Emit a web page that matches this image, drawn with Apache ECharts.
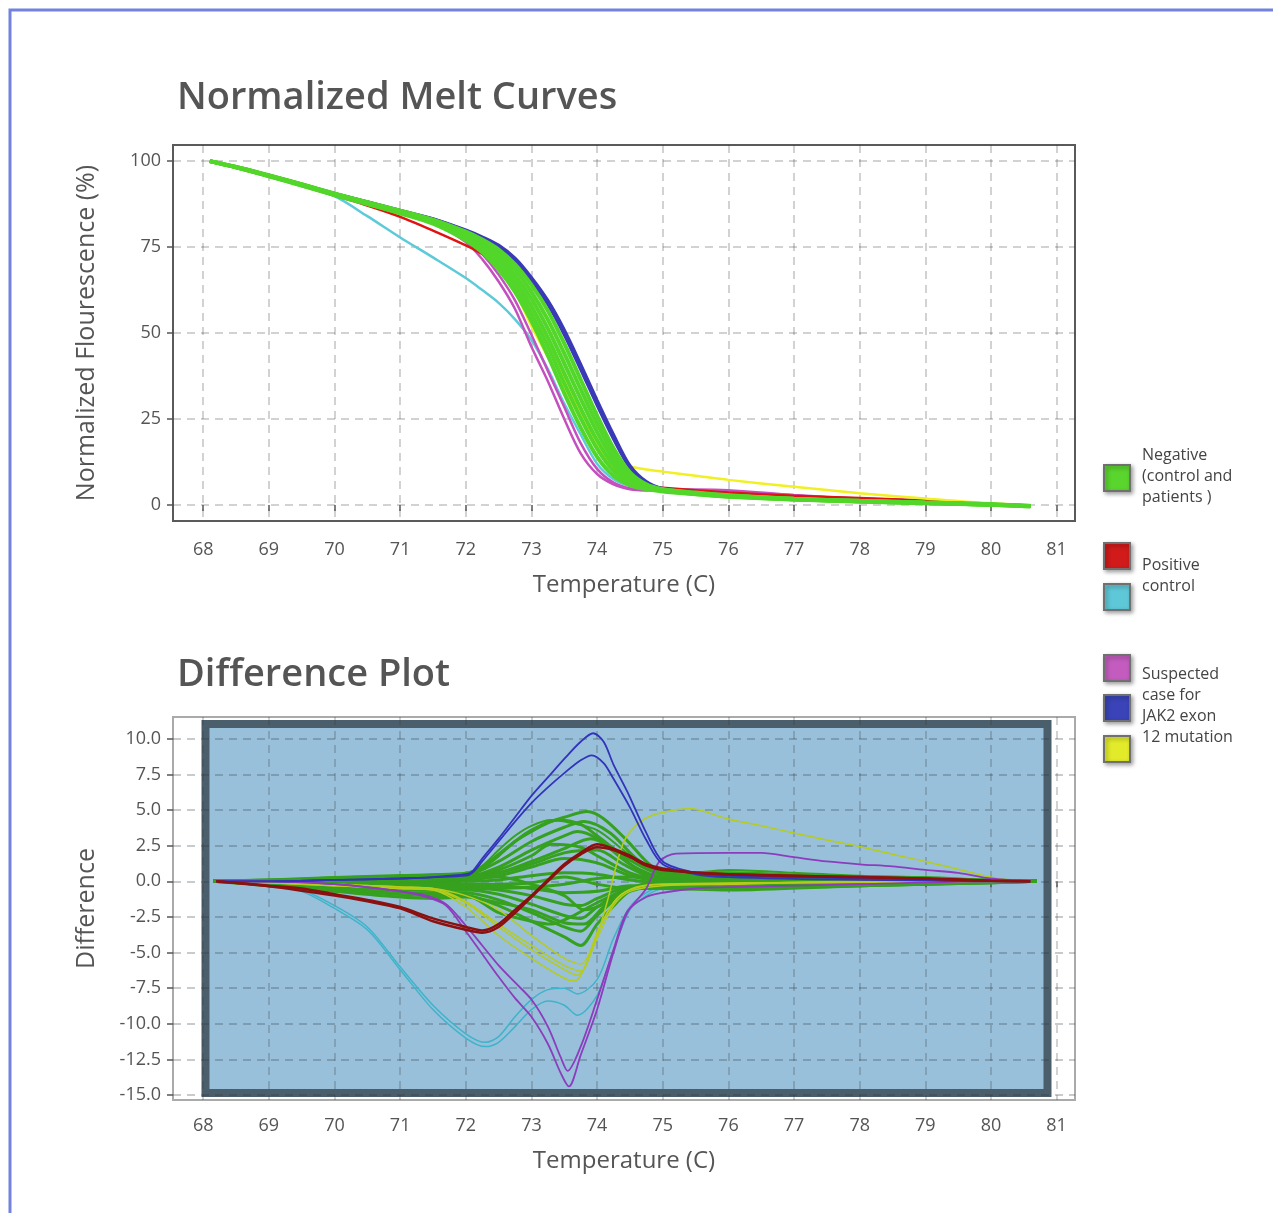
<!DOCTYPE html>
<html lang="en">
<head>
  <meta charset="UTF-8">
  <title>Normalized Melt Curves</title>
  <style>
  html, body {
    margin: 0;
    padding: 0;
    width: 100%;
    height: 100%;
    background: #fff;
  }
  #main {
    width: 1273px;
    height: 1213px;
  }
  </style>
</head>
<body>
<div id="main"></div>
<script src="https://cdn.jsdelivr.net/npm/echarts@6/dist/echarts.min.js"></script>
<script>
var FONT = 'Open Sans';

// tick labels
var tempTicks = [68, 69, 70, 71, 72, 73, 74, 75, 76, 77, 78, 79, 80, 81];
var meltTicks = [0, 25, 50, 75, 100];
var diffTicks = [-15, -12.5, -10, -7.5, -5, -2.5, 0, 2.5, 5, 7.5, 10];

// ---- normalized melt curves (one value per temperature) ----
var meltTemps = [68.1, 68.5, 69, 69.5, 70, 70.5, 71, 71.5, 72, 72.25, 72.5, 72.75, 73, 73.25,
                 73.5, 73.75, 74, 74.25, 74.5, 74.75, 75, 75.5, 76, 77, 78, 79, 80, 80.6];

var meltNeg1 = [100, 98.2, 95.6, 92.9, 90.1, 87.5, 84.8, 81.8, 77.0, 73.5, 68.5, 62.0, 53.5, 43.5, 32.5, 22.5, 14.0, 8.5, 5.8, 4.6, 3.9, 3.1, 2.4, 1.6, 1.0, 0.5, 0.1, -0.3];
var meltNeg2 = [100, 98.2, 95.7, 93.0, 90.2, 87.6, 85.0, 82.1, 77.5, 74.2, 69.7, 63.6, 55.6, 46.1, 35.4, 25.3, 16.4, 10.0, 6.6, 5.0, 4.1, 3.2, 2.5, 1.6, 1.0, 0.6, 0.1, -0.3];
var meltNeg3 = [100, 98.2, 95.7, 93.1, 90.3, 87.8, 85.2, 82.4, 78.1, 75.0, 71.0, 65.3, 57.8, 48.7, 38.3, 28.1, 18.8, 11.6, 7.3, 5.3, 4.3, 3.3, 2.6, 1.7, 1.1, 0.6, 0.1, -0.3];
var meltNeg4 = [100, 98.3, 95.8, 93.2, 90.4, 87.9, 85.3, 82.6, 78.6, 75.7, 72.1, 66.9, 60.0, 51.3, 41.2, 30.9, 21.2, 13.2, 8.0, 5.6, 4.4, 3.4, 2.7, 1.7, 1.1, 0.6, 0.1, -0.4];
var meltNeg5 = [100, 98.3, 95.8, 93.2, 90.5, 88.0, 85.5, 82.8, 79.0, 76.5, 73.2, 68.5, 62.0, 53.9, 44.1, 33.7, 23.6, 14.8, 8.8, 5.8, 4.5, 3.5, 2.7, 1.8, 1.2, 0.7, 0.2, -0.4];
var meltNeg6 = [100, 98.3, 95.9, 93.3, 90.6, 88.1, 85.6, 83.0, 79.5, 77.2, 74.3, 70.0, 64.0, 56.5, 47.0, 36.5, 26.0, 16.5, 9.5, 6.0, 4.6, 3.6, 2.8, 1.8, 1.2, 0.7, 0.2, -0.4];
var meltRed = [100, 98.2, 95.6, 92.9, 90.0, 87.1, 83.8, 79.8, 75.5, 73.0, 69.5, 64.0, 56.5, 48.0, 38.0, 27.5, 17.5, 10.5, 6.8, 5.4, 5.0, 4.3, 3.6, 2.7, 2.0, 1.3, 0.3, -0.2];
var meltCyan = [100, 98.2, 95.6, 92.9, 89.8, 84.0, 77.8, 72.0, 66.0, 62.5, 58.8, 54.0, 48.0, 39.5, 29.5, 20.5, 12.0, 7.5, 5.5, 4.5, 4.0, 3.3, 2.8, 2.2, 1.6, 1.0, 0.2, -0.2];
var meltMag1 = [100, 98.2, 95.6, 92.9, 90.1, 87.5, 84.8, 82.0, 76.5, 71.5, 65.0, 57.0, 46.0, 36.0, 25.0, 15.0, 9.0, 6.0, 4.6, 4.3, 4.5, 4.5, 4.3, 2.9, 1.9, 1.3, 0.3, -0.2];
var meltMag2 = [100, 98.2, 95.7, 93.0, 90.2, 87.6, 85.0, 82.2, 77.5, 73.0, 67.0, 59.5, 49.5, 39.0, 28.5, 18.0, 10.5, 6.5, 4.8, 4.3, 4.4, 4.3, 4.0, 2.7, 1.8, 1.1, 0.3, -0.2];
var meltBlue1 = [100, 98.3, 95.9, 93.3, 90.6, 88.2, 85.7, 83.3, 80.0, 78.0, 75.6, 71.8, 66.2, 59.5, 51.0, 41.0, 30.5, 20.5, 11.5, 6.8, 4.8, 3.6, 2.8, 1.8, 1.2, 0.7, 0.2, -0.4];
var meltBlue2 = [100, 98.3, 95.9, 93.3, 90.6, 88.1, 85.6, 83.2, 79.8, 77.6, 75.0, 71.0, 65.2, 58.3, 49.5, 39.4, 29.0, 19.2, 10.8, 6.5, 4.7, 3.5, 2.7, 1.8, 1.2, 0.7, 0.2, -0.4];
var meltYellow1 = [100, 98.2, 95.7, 93.0, 90.2, 87.6, 85.0, 82.2, 78.0, 74.5, 69.5, 62.0, 52.0, 43.0, 34.0, 25.0, 17.0, 12.5, 11.2, 10.3, 9.7, 8.5, 7.3, 5.3, 3.4, 1.9, 0.5, 0];
var meltYellow2 = [100, 98.2, 95.7, 93.0, 90.2, 87.7, 85.1, 82.3, 77.8, 74.6, 70.3, 64.5, 56.6, 47.4, 37.0, 26.8, 17.6, 10.8, 7.0, 5.2, 4.2, 3.3, 2.6, 1.7, 1.1, 0.6, 0.1, -0.3];

// ---- difference plot, [temperature, difference] ----
var diffNeg1 = [[68.15, 0], [68.5, 0.05], [69, 0.1], [69.5, 0.15], [70, 0.25], [70.5, 0.3], [71, 0.35], [71.5, 0.45], [72, 0.55], [72.25, 1.0], [72.5, 1.9], [72.75, 2.8], [73, 3.5], [73.25, 4.1], [73.5, 4.5], [73.85, 4.9], [74.1, 4.4], [74.45, 2.9], [74.85, 1.0], [75.2, 0.6], [76, 0.6], [77, 0.45], [78, 0.3], [79, 0.2], [80, 0.1], [80.7, 0]];
var diffNeg2 = [[68.15, 0], [69, 0.05], [70, 0.2], [71, 0.3], [71.5, 0.3], [72, 0.35], [72.25, 0.9], [72.5, 1.8], [72.75, 2.8], [73, 3.6], [73.4, 4.3], [73.75, 4.0], [74, 3.2], [74.5, 1.5], [75, 0.5], [76, 0.4], [77, 0.3], [78, 0.2], [79, 0.1], [80.7, 0]];
var diffNeg3 = [[68.15, 0], [69, 0], [70, 0.1], [71, 0.2], [72, 0.3], [72.5, 1.0], [73, 2.2], [73.5, 3.2], [73.7, 3.5], [74, 3.0], [74.5, 1.2], [75, 0.3], [76, 0.2], [78, 0.1], [80.7, 0]];
var diffNeg4 = [[68.15, 0], [69, 0], [70, 0.05], [71, 0.1], [72, 0.2], [72.5, 0.8], [73, 1.8], [73.3, 2.6], [73.75, 2.4], [74, 1.8], [74.5, 0.6], [75, 0.1], [76, 0], [80.7, 0]];
var diffNeg5 = [[68.15, 0], [70, 0], [71, 0], [72, 0.1], [72.5, 0.4], [73, 1.0], [73.5, 1.6], [74, 1.3], [74.5, 0.4], [75, 0], [77, -0.1], [80.7, 0]];
var diffNeg6 = [[68.15, 0], [70, -0.05], [71, -0.1], [72, 0], [72.5, 0.1], [73, 0.4], [73.5, 0.6], [74, 0.5], [74.5, 0.1], [75, -0.1], [76, -0.2], [78, -0.1], [80.7, 0]];
var diffNeg7 = [[68.15, 0], [69, -0.1], [70, -0.2], [71, -0.3], [72, -0.3], [72.5, -0.3], [73, -0.5], [73.5, -0.8], [74, -0.7], [74.5, -0.3], [75, -0.3], [76, -0.3], [78, -0.2], [80, -0.1], [80.7, 0]];
var diffNeg8 = [[68.15, 0], [69, -0.15], [70, -0.3], [71, -0.5], [72, -0.5], [72.5, -0.6], [73, -1.0], [73.5, -1.6], [73.75, -1.7], [74, -1.2], [74.5, -0.4], [75, -0.4], [76, -0.4], [78, -0.3], [80, -0.1], [80.7, 0]];
var diffNeg9 = [[68.15, 0], [69, -0.2], [70, -0.4], [71, -0.6], [72, -0.6], [72.5, -0.9], [73, -1.6], [73.5, -2.4], [73.75, -2.6], [74, -1.8], [74.5, -0.5], [75, -0.5], [76, -0.5], [78, -0.3], [80, -0.1], [80.7, 0]];
var diffNeg10 = [[68.15, 0], [69, -0.2], [70, -0.5], [71, -0.8], [72, -0.8], [72.5, -1.3], [73, -2.2], [73.5, -3.2], [73.75, -3.5], [74, -2.4], [74.5, -0.6], [75, -0.4], [80.7, 0]];
var diffNeg11 = [[68.15, 0], [69, -0.25], [70, -0.6], [71, -0.9], [72, -1.0], [72.5, -1.7], [73, -2.8], [73.5, -3.9], [73.75, -4.5], [74, -3.0], [74.3, -1.5], [74.5, -0.7], [75, -0.3], [80.7, 0]];
var diffNeg12 = [[68.15, 0], [69, -0.2], [70, -0.5], [71, -0.9], [71.5, -1.0], [72, -1.0], [72.5, -2.2], [73, -2.8], [73.3, -3.0], [73.6, -2.5], [74, -1.5], [74.5, -0.5], [75, -0.2], [80.7, 0]];
var diffNeg13 = [[68.15, 0], [70, 0.1], [71, 0.2], [72, 0.3], [72.5, 0.6], [73, 1.4], [73.5, 2.3], [73.9, 3.0], [74.2, 2.4], [74.6, 0.9], [75, 0.3], [76, 0.3], [80.7, 0]];
var diffNeg14 = [[68.15, 0], [70, -0.3], [71, -0.4], [72, -0.4], [72.5, -0.5], [73, -0.4], [73.5, -0.2], [74, 0.2], [74.5, 0.3], [75, 0.2], [78, 0.1], [80.7, 0]];
var diffNeg15 = [[68.15, 0], [70, 0.15], [71, 0.25], [72, 0.4], [72.5, 1.4], [73, 2.8], [73.5, 3.8], [73.8, 4.2], [74.2, 3.4], [74.6, 1.6], [75, 0.6], [76, 0.5], [78, 0.2], [80.7, 0]];
var diffNeg16 = [[68.15, 0], [70, 0], [71, 0.05], [72, 0.15], [72.5, 0.6], [73, 1.2], [73.5, 2.0], [74, 2.2], [74.4, 1.2], [74.8, 0.3], [75, 0.1], [80.7, 0]];
var diffNeg17 = [[68.15, 0], [70, -0.1], [71, -0.2], [72, -0.2], [72.5, -0.2], [73, -0.1], [73.5, 0.3], [74, -0.2], [74.5, -0.5], [75, -0.5], [76, -0.6], [78, -0.3], [80.7, 0]];
var diffNeg18 = [[68.15, 0], [69, -0.3], [70, -0.7], [71, -1.1], [71.5, -1.2], [72, -1.1], [72.5, -1.5], [73, -2.0], [73.5, -2.9], [73.8, -3.0], [74.1, -1.8], [74.5, -0.6], [75, -0.4], [80.7, 0]];
var diffNeg19 = [[68.15, 0], [70, 0.05], [71, 0.1], [72, 0.2], [72.5, 0.3], [73, -0.2], [73.5, -1.0], [73.8, -2.0], [74.1, -1.6], [74.5, -0.5], [75, 0], [80.7, 0]];
var diffNeg20 = [[68.15, 0], [70, 0.3], [71, 0.45], [71.5, 0.5], [72, 0.6], [72.25, 1.1], [72.5, 2.2], [72.75, 3.2], [73, 3.9], [73.3, 4.3], [73.6, 4.1], [74, 3.6], [74.4, 2.2], [74.8, 0.8], [75.2, 0.5], [76, 0.8], [77, 0.6], [78, 0.4], [79, 0.3], [80, 0.1], [80.7, 0]];

var diffRed1 = [[68.2, 0], [68.5, -0.1], [69, -0.3], [69.5, -0.5], [70, -0.9], [70.5, -1.3], [71, -1.8], [71.5, -2.6], [72, -3.2], [72.25, -3.45], [72.5, -3.0], [72.75, -2.0], [73, -1.0], [73.25, 0.1], [73.5, 1.2], [73.75, 2.0], [74, 2.6], [74.25, 2.3], [74.5, 1.8], [74.75, 1.2], [75, 0.9], [75.5, 0.6], [76, 0.5], [77, 0.4], [78, 0.3], [79, 0.2], [80, 0.05], [80.6, 0]];
var diffRed2 = [[68.2, 0], [69, -0.35], [70, -1.0], [70.5, -1.4], [71, -1.9], [71.5, -2.8], [72, -3.4], [72.25, -3.6], [72.5, -3.2], [72.75, -2.2], [73, -1.1], [73.25, 0], [73.5, 1.1], [73.75, 1.9], [74, 2.4], [74.25, 2.2], [74.5, 1.7], [74.75, 1.1], [75, 0.8], [76, 0.5], [78, 0.3], [80, 0.05], [80.6, 0]];
var diffCyan1 = [[68.2, 0], [68.5, -0.1], [69, -0.3], [69.5, -0.7], [70, -1.9], [70.5, -3.4], [71, -6.2], [71.5, -9.0], [72, -11.0], [72.3, -11.6], [72.5, -11.3], [72.75, -10.2], [73, -9.0], [73.25, -8.4], [73.5, -8.7], [73.7, -9.4], [74, -8.0], [74.25, -4.8], [74.5, -2.0], [74.75, -1.0], [75, -0.5], [75.5, -0.3], [76, -0.3], [77, -0.2], [78, -0.1], [80, 0], [80.6, 0]];
var diffCyan2 = [[68.2, 0], [69, -0.3], [69.5, -0.6], [70, -1.7], [70.5, -3.2], [71, -6.0], [71.5, -8.7], [72, -10.7], [72.3, -11.3], [72.5, -10.9], [72.75, -9.5], [73, -8.3], [73.25, -7.6], [73.5, -7.5], [73.7, -7.9], [74, -6.9], [74.25, -4.0], [74.5, -1.8], [74.75, -0.8], [75, -0.4], [76, -0.2], [78, -0.1], [80.6, 0]];
var diffPurple1 = [[68.2, 0], [69, 0], [70, -0.2], [70.5, -0.4], [71, -0.7], [71.4, -1.1], [71.7, -1.7], [72, -3.5], [72.25, -5.1], [72.5, -6.7], [72.75, -8.2], [73, -9.5], [73.25, -11.4], [73.45, -13.5], [73.57, -14.4], [73.75, -12.2], [74, -9.0], [74.25, -5.0], [74.46, -2.2], [74.75, -0.5], [74.95, 1.4], [75.2, 1.95], [76, 2.0], [76.5, 2.0], [77, 1.7], [77.5, 1.4], [78, 1.2], [78.5, 1.05], [79, 0.8], [79.5, 0.6], [80, 0.2], [80.6, 0]];
var diffPurple2 = [[68.2, 0], [69, 0], [70, -0.2], [71, -0.7], [71.4, -1.0], [71.7, -1.6], [72, -3.1], [72.25, -4.5], [72.5, -5.9], [72.75, -7.1], [73, -8.3], [73.25, -10.2], [73.45, -12.4], [73.55, -13.3], [73.75, -11.6], [74, -8.3], [74.25, -4.8], [74.46, -2.1], [74.75, -1.1], [75, -0.8], [75.5, -0.5], [76, -0.4], [77, -0.3], [78, -0.2], [80, 0], [80.6, 0]];
var diffBlue1 = [[68.2, 0], [69, 0], [70, 0.1], [71, 0.2], [71.5, 0.3], [72, 0.5], [72.1, 0.7], [72.25, 1.6], [72.5, 3.0], [72.75, 4.5], [73, 6.0], [73.25, 7.3], [73.5, 8.6], [73.75, 9.8], [73.94, 10.4], [74.1, 9.8], [74.25, 8.2], [74.46, 6.3], [74.75, 3.4], [75, 1.4], [75.5, 0.6], [76, 0.4], [77, 0.3], [78, 0.2], [79, 0.1], [80, 0], [80.6, 0]];
var diffBlue2 = [[68.2, 0], [69, 0], [70, 0.1], [71, 0.2], [72, 0.4], [72.1, 0.6], [72.25, 1.4], [72.5, 2.8], [72.75, 4.2], [73, 5.5], [73.25, 6.6], [73.5, 7.6], [73.75, 8.5], [73.92, 8.85], [74.1, 8.3], [74.25, 7.2], [74.5, 5.2], [74.75, 2.9], [75, 1.2], [75.5, 0.5], [76, 0.3], [78, 0.1], [80.6, 0]];
var diffYellow1 = [[68.2, 0], [69, -0.1], [70, -0.3], [71, -0.5], [71.5, -0.6], [72, -1.5], [72.5, -3.2], [73, -4.8], [73.5, -6.2], [73.7, -6.6], [73.95, -4.5], [74.15, -1.5], [74.4, 2.7], [74.66, 4.2], [74.96, 4.8], [75.42, 5.1], [75.98, 4.4], [76.5, 3.9], [77, 3.4], [77.5, 2.9], [78, 2.45], [78.5, 1.9], [79, 1.4], [79.5, 0.85], [80.1, 0.2], [80.6, 0]];
var diffYellow2 = [[68.2, 0], [69, -0.1], [70, -0.3], [71, -0.5], [71.5, -0.6], [72, -1.8], [72.5, -3.8], [73, -5.4], [73.5, -6.8], [73.65, -7.0], [74, -4.0], [74.25, -1.7], [74.5, -0.7], [75, -0.3], [76, -0.2], [78, 0], [80.6, 0]];
var diffYellow3 = [[68.2, 0], [70, -0.2], [71, -0.4], [71.5, -0.5], [72, -1.4], [72.5, -3.0], [73, -4.5], [73.5, -5.9], [73.75, -6.3], [74, -3.6], [74.25, -1.5], [74.5, -0.6], [75, -0.2], [80.6, 0]];
var diffYellow4 = [[68.2, 0], [70, -0.2], [71, -0.4], [71.5, -0.5], [72, -1.0], [72.5, -2.0], [73, -3.8], [73.5, -5.4], [73.75, -5.8], [74.05, -3.1], [74.3, -1.2], [74.6, -0.4], [75, -0.2], [80.6, 0]];

var chart = echarts.init(document.getElementById('main'));

function meltLine(values, color, width) {
  var data = [];
  for (var i = 0; i < meltTemps.length; i++) {
    data.push([meltTemps[i], values[i]]);
  }
  return {
    type: 'line', xAxisIndex: 0, yAxisIndex: 0, data: data,
    showSymbol: false, smooth: 0.3, silent: true,
    lineStyle: { color: color, width: width }
  };
}

function diffLine(data, color, width) {
  return {
    type: 'line', xAxisIndex: 1, yAxisIndex: 1, data: data,
    showSymbol: false, smooth: 0.3, silent: true,
    lineStyle: { color: color, width: width }
  };
}

function tempAxis(gridIndex, labelMargin, nameGap) {
  return {
    type: 'value', gridIndex: gridIndex, min: 67.54, max: 81.28,
    name: 'Temperature (C)', nameLocation: 'middle', nameGap: nameGap,
    nameTextStyle: { fontSize: 24, color: '#555', fontFamily: FONT },
    axisLine: { show: false },
    axisTick: { show: true, customValues: tempTicks, length: 6, lineStyle: { color: '#555', width: 1.5 } },
    axisLabel: { customValues: tempTicks, fontSize: 18, color: '#555', margin: labelMargin, fontFamily: FONT },
    splitLine: { show: true, lineStyle: { type: [8, 6], color: 'rgba(60,60,60,0.3)', width: 1.5 } }
  };
}

var GREEN = '#52d62a', GREEN_D = '#36a11e';

var series = [
  meltLine(meltCyan, '#5ccad8', 2.5),
  meltLine(meltMag1, '#c450c0', 2.5),
  meltLine(meltMag2, '#c450c0', 2.5),
  meltLine(meltRed, '#e01212', 2.5),
  meltLine(meltYellow1, '#f0f022', 2.5),
  meltLine(meltYellow2, '#f0f022', 2.5),
  meltLine(meltBlue1, '#3a3ab8', 3),
  meltLine(meltBlue2, '#3a3ab8', 3),
  meltLine(meltNeg1, GREEN, 4),
  meltLine(meltNeg2, GREEN, 4),
  meltLine(meltNeg3, GREEN, 4),
  meltLine(meltNeg4, GREEN, 4),
  meltLine(meltNeg5, GREEN, 4),
  meltLine(meltNeg6, GREEN, 4),

  diffLine(diffCyan1, '#3fb3c9', 1.5),
  diffLine(diffCyan2, '#3fb3c9', 1.5),
  diffLine(diffNeg1, GREEN_D, 3),
  diffLine(diffNeg2, GREEN_D, 3),
  diffLine(diffNeg3, GREEN_D, 3),
  diffLine(diffNeg4, GREEN_D, 3),
  diffLine(diffNeg5, GREEN_D, 3),
  diffLine(diffNeg6, GREEN_D, 3),
  diffLine(diffNeg7, GREEN_D, 3),
  diffLine(diffNeg8, GREEN_D, 3),
  diffLine(diffNeg9, GREEN_D, 3),
  diffLine(diffNeg10, GREEN_D, 3),
  diffLine(diffNeg11, GREEN_D, 3),
  diffLine(diffNeg12, GREEN_D, 3),
  diffLine(diffNeg13, GREEN_D, 3),
  diffLine(diffNeg14, GREEN_D, 3),
  diffLine(diffNeg15, GREEN_D, 3),
  diffLine(diffNeg16, GREEN_D, 3),
  diffLine(diffNeg17, GREEN_D, 3),
  diffLine(diffNeg18, GREEN_D, 3),
  diffLine(diffNeg19, GREEN_D, 3),
  diffLine(diffNeg20, GREEN_D, 2),
  diffLine(diffYellow1, '#b5cc1c', 1.5),
  diffLine(diffYellow2, '#b5cc1c', 1.5),
  diffLine(diffYellow3, '#b5cc1c', 1.5),
  diffLine(diffYellow4, '#b5cc1c', 1.5),
  diffLine(diffPurple1, '#8c3cbc', 1.8),
  diffLine(diffPurple2, '#8c3cbc', 1.8),
  diffLine(diffBlue1, '#3333bb', 1.8),
  diffLine(diffBlue2, '#3333bb', 1.8),
  diffLine(diffRed1, '#8b1010', 2.5),
  diffLine(diffRed2, '#8b1010', 2.5)
];

// legend blocks on the right
var legendSquares = [
  { y: 465, color: '#5ad52e' },
  { y: 543, color: '#d11a1a' },
  { y: 584, color: '#5ec8d8' },
  { y: 655, color: '#c45cc0' },
  { y: 695, color: '#3a44b8' },
  { y: 736, color: '#e2ea2a' }
];
var legendTexts = [
  { y: 445, text: 'Negative\n(control and\npatients )' },
  { y: 555, text: 'Positive\ncontrol' },
  { y: 664, text: 'Suspected\ncase for\nJAK2 exon\n12 mutation' }
];

var graphics = [
  {
    type: 'polyline', silent: true,
    shape: { points: [[10, 1213], [10, 10], [1273, 10]] },
    style: { stroke: '#7383dc', lineWidth: 3, fill: null }
  },
  {
    type: 'rect', silent: true, z: -1,
    shape: { x: 205.5, y: 724, width: 842, height: 369 },
    style: { fill: '#98c0da', stroke: '#4b5e6b', lineWidth: 8 }
  }
];
legendSquares.forEach(function(s) {
  graphics.push({
    type: 'rect', silent: true,
    shape: { x: 1104, y: s.y, width: 26, height: 26 },
    style: {
      fill: s.color, stroke: '#707070', lineWidth: 2,
      shadowBlur: 4, shadowOffsetX: 2, shadowOffsetY: 2, shadowColor: 'rgba(0,0,0,0.35)'
    }
  });
});
legendTexts.forEach(function(t) {
  graphics.push({
    type: 'text', silent: true,
    style: {
      x: 1142, y: t.y, text: t.text, fill: '#444',
      font: '16px "Open Sans"', lineHeight: 21, verticalAlign: 'top'
    }
  });
});

var option = {
  backgroundColor: '#fff',
  animation: false,
  title: [
    { text: 'Normalized Melt Curves', left: 172, top: 74,
      textStyle: { fontSize: 38, fontWeight: 600, color: '#555', fontFamily: FONT } },
    { text: 'Difference Plot', left: 172, top: 651,
      textStyle: { fontSize: 38, fontWeight: 600, color: '#555', fontFamily: FONT } }
  ],
  grid: [
    { left: 173, top: 145, width: 902, height: 376, show: true,
      borderColor: '#5a5a5a', borderWidth: 2, backgroundColor: 'transparent' },
    { left: 173, top: 717, width: 902, height: 383, show: true,
      borderColor: '#aaaaaa', borderWidth: 2, backgroundColor: 'transparent' }
  ],
  xAxis: [tempAxis(0, 20, 52), tempAxis(1, 17, 49)],
  yAxis: [
    {
      type: 'value', gridIndex: 0, min: -4.66, max: 104.7,
      name: 'Normalized Flourescence (%)', nameLocation: 'middle', nameGap: 74,
      nameTextStyle: { fontSize: 25, color: '#555', fontFamily: FONT },
      axisLine: { show: false },
      axisTick: { show: true, customValues: meltTicks, length: 6, lineStyle: { color: '#555', width: 1.5 } },
      axisLabel: { customValues: meltTicks, fontSize: 18, color: '#555', margin: 12, fontFamily: FONT },
      splitLine: { show: true, lineStyle: { type: [8, 6], color: 'rgba(60,60,60,0.3)', width: 1.5 } }
    },
    {
      type: 'value', gridIndex: 1, min: -15.35, max: 11.54,
      name: 'Difference', nameLocation: 'middle', nameGap: 74,
      nameTextStyle: { fontSize: 25, color: '#555', fontFamily: FONT },
      axisLine: { show: false },
      axisTick: { show: true, customValues: diffTicks, length: 6, lineStyle: { color: '#555', width: 1.5 } },
      axisLabel: { customValues: diffTicks, fontSize: 18, color: '#555', margin: 12, fontFamily: FONT,
        formatter: function(v) { return v.toFixed(1); } },
      splitLine: { show: true, lineStyle: { type: [8, 6], color: 'rgba(50,60,70,0.35)', width: 1.5 } }
    }
  ],
  graphic: graphics,
  series: series
};

chart.setOption(option);
</script>
</body>
</html>
